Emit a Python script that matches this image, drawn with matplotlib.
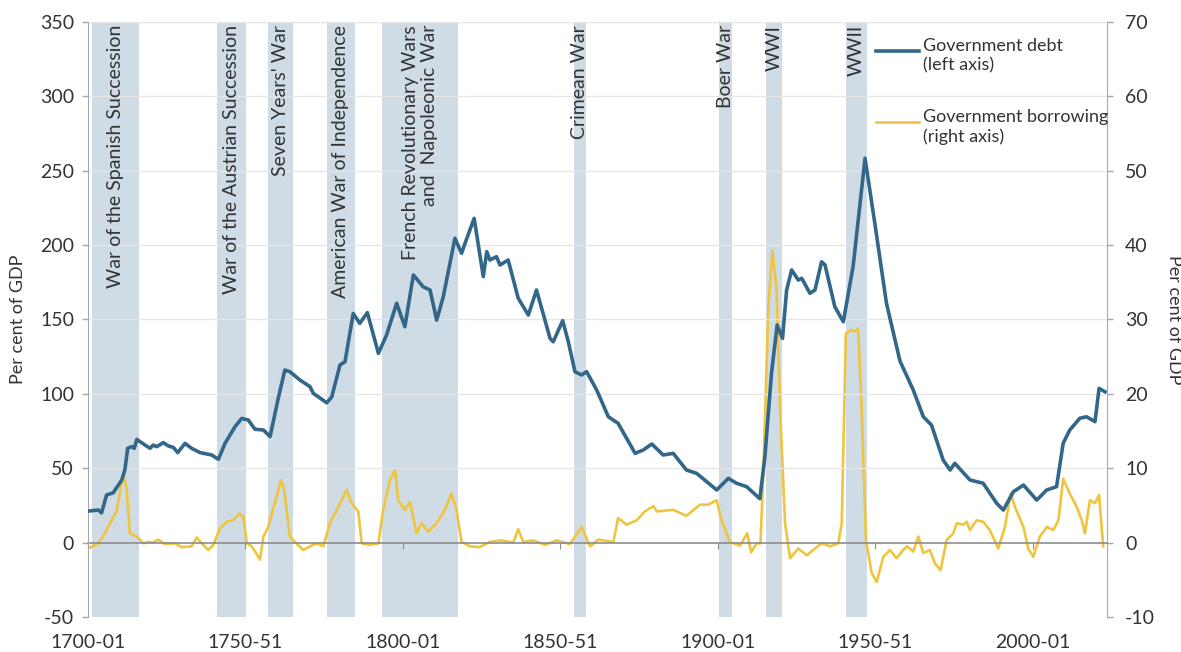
import matplotlib
matplotlib.use("Agg")
import matplotlib.pyplot as plt
from matplotlib.lines import Line2D

plt.rcParams['font.family'] = ['Lato', 'DejaVu Sans']
plt.rcParams['axes.unicode_minus'] = False

# fiscal year start (e.g. 1700 -> 1700-01), per cent of GDP
debt_year = [1700.1, 1703.3, 1704.3, 1705.9, 1708.0, 1710.7, 1711.7, 1712.6, 1713.9, 1714.7,
             1715.5, 1718.1, 1719.7, 1720.7, 1721.8, 1723.9, 1725.5, 1727.1, 1728.5, 1730.8,
             1732.9, 1735.6, 1737.7, 1739.3, 1741.4, 1743.5, 1746.7, 1748.8, 1750.9, 1753.0,
             1755.7, 1757.8, 1760.4, 1762.5, 1764.1, 1767.3, 1770.5, 1771.5, 1775.8, 1777.4,
             1780.0, 1781.6, 1784.2, 1786.3, 1788.7, 1792.2, 1794.8, 1798.0, 1800.6, 1803.3,
             1806.4, 1808.6, 1810.7, 1812.8, 1816.5, 1818.6, 1819.7, 1822.6, 1825.5, 1826.6,
             1827.6, 1829.7, 1830.8, 1833.4, 1836.6, 1839.8, 1842.4, 1846.7, 1847.7, 1850.7,
             1852.5, 1854.6, 1856.7, 1858.3, 1861.5, 1865.2, 1868.3, 1873.7, 1876.3, 1879.0,
             1882.6, 1885.8, 1890.0, 1893.2, 1899.6, 1903.3, 1905.9, 1909.1, 1913.3, 1914.9,
             1917.0, 1918.8, 1920.5, 1921.8, 1923.4, 1925.5, 1926.6, 1929.2, 1930.8, 1932.9,
             1934.0, 1937.1, 1939.8, 1942.9, 1946.7, 1949.8, 1953.5, 1957.8, 1962.0, 1965.2,
             1967.8, 1971.5, 1973.7, 1975.2, 1980.0, 1984.2, 1988.5, 1990.6, 1993.8, 1997.0,
             2001.2, 2004.4, 2007.5, 2009.6, 2011.7, 2014.9, 2017.0, 2019.7, 2021.0, 2022.9]
debt = [21.2, 21.9, 20.0, 32.0, 33.5, 42.0, 48.8, 63.4, 64.5, 63.4,
        69.4, 65.6, 63.4, 65.6, 64.5, 67.2, 65.0, 64.0, 60.5, 66.7,
        63.4, 60.5, 59.6, 58.9, 56.0, 66.7, 78.0, 83.5, 82.4, 76.2,
        75.7, 71.2, 97.0, 116.0, 114.9, 109.3, 104.8, 100.4, 94.0, 98.0,
        119.4, 121.6, 154.0, 147.4, 154.6, 127.2, 139.6, 160.9, 145.1, 179.9,
        172.0, 169.8, 149.6, 165.3, 204.6, 194.5, 201.2, 218.0, 178.8, 195.6,
        190.0, 192.2, 186.6, 190.0, 164.2, 153.0, 169.8, 137.3, 135.0, 149.2,
        135.0, 114.9, 112.7, 114.9, 102.6, 84.6, 80.2, 60.0, 62.3, 66.3,
        58.9, 60.0, 48.8, 46.6, 35.4, 43.2, 39.9, 37.6, 29.5, 57.7,
        113.8, 146.3, 137.3, 169.8, 183.3, 176.5, 177.7, 167.6, 169.8, 188.8,
        186.6, 158.6, 148.5, 185.5, 258.4, 214.7, 160.9, 122.0, 102.6, 84.6,
        79.0, 55.5, 48.8, 53.3, 42.1, 39.9, 26.4, 21.9, 34.2, 38.7,
        28.6, 35.4, 37.6, 66.8, 75.7, 83.6, 84.6, 81.3, 103.7, 101.4]

borrow_year = [1700.0, 1703.3, 1705.4, 1707.5, 1709.1, 1711.2, 1712.3, 1713.3, 1715.5, 1717.6,
               1719.1, 1720.7, 1722.3, 1724.4, 1727.6, 1729.7, 1732.9, 1734.5, 1736.1, 1738.2,
               1739.8, 1741.9, 1744.0, 1746.1, 1748.0, 1749.3, 1750.4, 1752.0, 1753.5, 1754.6,
               1755.7, 1757.2, 1759.9, 1761.3, 1762.3, 1764.1, 1765.7, 1768.3, 1770.5, 1772.6,
               1774.7, 1776.8, 1779.5, 1782.1, 1783.7, 1785.8, 1786.9, 1789.5, 1792.2, 1793.7,
               1795.9, 1797.5, 1798.5, 1800.6, 1802.2, 1804.3, 1805.9, 1808.0, 1810.7, 1813.3,
               1815.4, 1817.0, 1818.6, 1821.3, 1824.3, 1827.6, 1831.3, 1835.0, 1836.6, 1838.2,
               1841.4, 1845.1, 1848.8, 1853.0, 1856.7, 1859.4, 1862.0, 1866.8, 1868.3, 1871.0,
               1874.2, 1876.8, 1879.5, 1880.6, 1885.8, 1890.0, 1894.3, 1896.9, 1899.6, 1901.1,
               1903.8, 1907.0, 1909.3, 1910.5, 1912.3, 1913.5, 1914.4, 1916.0, 1917.3, 1918.6,
               1919.7, 1921.3, 1922.9, 1925.5, 1928.2, 1930.8, 1932.9, 1935.6, 1938.2, 1939.3,
               1940.6, 1942.4, 1943.5, 1944.5, 1945.6, 1947.0, 1948.8, 1950.4, 1952.5, 1954.6,
               1956.7, 1958.8, 1960.0, 1962.0, 1963.6, 1965.2, 1967.3, 1968.9, 1970.7, 1972.6,
               1974.7, 1975.8, 1977.9, 1979.0, 1980.0, 1982.1, 1984.2, 1986.3, 1989.0, 1991.1,
               1992.9, 1994.3, 1997.0, 1998.5, 2000.1, 2002.2, 2004.4, 2006.5, 2008.1, 2009.6,
               2011.7, 2013.9, 2015.5, 2016.5, 2018.1, 2019.7, 2021.0, 2022.3]
borrowing = [-0.8, -0.1, 1.25, 3.0, 4.2, 9.3, 7.1, 1.25, 0.8, -0.1,
             0.1, 0.0, 0.4, -0.2, -0.1, -0.6, -0.5, 0.7, -0.1, -1.0,
             -0.3, 1.9, 2.8, 3.0, 3.9, 3.5, -0.1, -0.5, -1.5, -2.3,
             0.8, 2.1, 6.2, 8.4, 7.1, 0.8, 0.1, -1.0, -0.5, -0.1,
             -0.5, 2.6, 4.8, 7.1, 5.3, 4.2, -0.1, -0.3, -0.1, 4.4,
             8.4, 9.8, 5.7, 4.4, 5.5, 1.25, 2.6, 1.5, 2.6, 4.4,
             6.6, 4.4, 0.1, -0.5, -0.6, 0.1, 0.3, 0.0, 1.8, 0.1,
             0.3, -0.3, 0.3, -0.2, 2.1, -0.5, 0.4, 0.1, 3.3, 2.4,
             3.0, 4.2, 4.9, 4.2, 4.4, 3.6, 5.1, 5.1, 5.7, 3.0,
             0.1, -0.4, 1.25, -1.3, -0.1, -0.1, 9.3, 31.7, 39.3, 34.0,
             18.3, 2.6, -2.1, -0.8, -1.7, -0.8, -0.1, -0.5, -0.1, 2.6,
             28.1, 28.6, 28.4, 28.8, 18.3, 0.35, -4.1, -5.3, -1.9, -1.0,
             -2.1, -1.0, -0.5, -1.2, 0.8, -1.4, -1.0, -2.8, -3.7, 0.35,
             1.25, 2.6, 2.4, 2.8, 1.7, 3.0, 2.8, 1.7, -0.8, 2.1,
             6.6, 4.8, 2.1, -0.8, -1.9, 0.8, 2.1, 1.7, 3.0, 8.6,
             6.6, 4.8, 3.0, 1.25, 5.7, 5.3, 6.4, -0.5]

war_names = ["War of the Spanish Succession", "War of the Austrian Succession",
             "Seven Years' War", "American War of Independence",
             "French Revolutionary Wars\nand  Napoleonic War", "Crimean War",
             "Boer War", "WWI", "WWII"]
war_start = [1701.2, 1741.0, 1757.0, 1775.8, 1793.4, 1854.3, 1900.4, 1915.2, 1940.5]
war_end = [1716.3, 1750.2, 1765.2, 1784.8, 1817.4, 1858.1, 1904.4, 1920.4, 1947.2]

tick_years = [1700, 1750, 1800, 1850, 1900, 1950, 2000]
tick_labels = ["1700-01", "1750-51", "1800-01", "1850-51", "1900-01", "1950-51", "2000-01"]

debt_col = "#33678a"
borrow_col = "#efc53f"
band_col = "#cfdbe5"
txt_col = "#333333"
axis_col = "#a8a8a8"

fig = plt.figure(figsize=(11.81, 6.52), dpi=100)
ax = fig.add_axes([0.0745, 0.0537, 0.8628, 0.9126])
ax2 = ax.twinx()
# debt (left axis) drawn on top of borrowing and bands
ax.set_zorder(ax2.get_zorder() + 1)
ax.patch.set_visible(False)

for s, e in zip(war_start, war_end):
    ax2.axvspan(s, e, color=band_col, lw=0, zorder=0)

ax2.plot(borrow_year, borrowing, color=borrow_col, lw=1.9, zorder=3)
ax.plot(debt_year, debt, color=debt_col, lw=2.6, zorder=4)

ax.set_xlim(1700, 2023.5)
ax.set_ylim(-50, 350)
ax2.set_ylim(-10, 70)

ax.set_yticks(range(-50, 351, 50))
ax2.set_yticks(range(-10, 71, 10))
for y in range(50, 351, 50):
    ax.axhline(y, color="#e6e6e6", lw=1, zorder=1)

ax.set_xticks(tick_years)
ax.set_xticklabels(tick_labels)
ax.tick_params(axis="x", length=0, pad=12, labelsize=14, colors=txt_col)
ax.tick_params(axis="y", length=4, width=1, color=axis_col, labelsize=14,
               labelcolor=txt_col, pad=6)
ax2.tick_params(axis="y", length=4, width=1, color=axis_col, labelsize=14,
                labelcolor=txt_col, pad=9)

for a in (ax, ax2):
    a.spines["top"].set_visible(False)
    a.spines["bottom"].set_visible(False)
    a.spines["left"].set_color(axis_col)
    a.spines["right"].set_color(axis_col)
ax.spines["right"].set_visible(False)
ax2.spines["left"].set_visible(False)

# horizontal axis line at zero with small ticks
zero_ax = ax.secondary_xaxis(50 / 400)
zero_ax.set_xticks(tick_years)
zero_ax.set_xticklabels([""] * len(tick_years))
zero_ax.spines["bottom"].set_color("#8c8c8c")
zero_ax.spines["bottom"].set_linewidth(1.2)
zero_ax.tick_params(length=4, color="#8c8c8c")

ax.set_ylabel("Per cent of GDP", fontsize=13, color=txt_col, labelpad=10)
ax2.set_ylabel("Per cent of GDP", fontsize=13, color=txt_col, rotation=270,
               va="bottom", labelpad=8)

for name, s, e in zip(war_names, war_start, war_end):
    ax.text((s + e) / 2, 348, name, rotation=90, ha="center", va="top",
            multialignment="right", fontsize=14, color=txt_col, zorder=5,
            linespacing=1.1)

# legend
lx0, lx1, tx = 0.7735, 0.8155, 0.8195
for (label, col, lw, yy) in [("Government debt\n(left axis)", debt_col, 2.6, 0.951),
                             ("Government borrowing\n(right axis)", borrow_col, 1.9, 0.832)]:
    ax.add_line(Line2D([lx0, lx1], [yy, yy], transform=ax.transAxes, color=col, lw=lw))
    ax.text(tx, yy + 0.022, label, transform=ax.transAxes, ha="left", va="top",
            fontsize=13, color=txt_col, linespacing=1.25)

fig.savefig("out.png", dpi=100)
